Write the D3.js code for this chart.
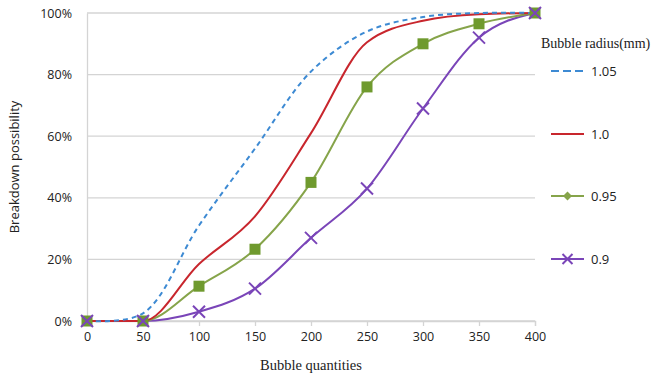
<!DOCTYPE html>
<html>
<head>
<meta charset="utf-8">
<script src="https://cdn.jsdelivr.net/npm/d3@7"></script>
<style>
  body { margin: 0; background: #fff; }
  svg { display: block; }
  .tick text { font-family: "Open Sans", "Liberation Sans", sans-serif; font-size: 12.5px; fill: #222; }
</style>
</head>
<body>
<div id="chart"></div>
<script>
const quantities = [0, 50, 100, 150, 200, 250, 300, 350, 400]
const r105 = [0, 2.5, 31, 56, 81, 94, 98.7, 100, 100]
const r100 = [0, 0, 18.5, 34, 61, 90.5, 97.5, 99.6, 100]
const r095 = [0, 0, 11.3, 23.3, 45, 76, 90, 96.5, 100]
const r090 = [0, 0, 3, 10.5, 27, 43, 69, 92, 100]
const seriesNames = ['1.05', '1.0', '0.95', '0.9']
const yTicks = [0, 20, 40, 60, 80, 100]

const width = 671, height = 376
const margin = {top: 13, right: 136, bottom: 55, left: 87}

const svg = d3.select('#chart').append('svg')
  .attr('width', width)
  .attr('height', height)

const x = d3.scaleLinear().domain([0, 400]).range([margin.left, width - margin.right])
const y = d3.scaleLinear().domain([0, 100]).range([height - margin.bottom, margin.top])

// grid
svg.append('g')
  .selectAll('line')
  .data(yTicks)
  .enter().append('line')
  .attr('x1', x(0)).attr('x2', x(400))
  .attr('y1', d => y(d)).attr('y2', d => y(d))
  .attr('stroke', '#d4d4d4')
  .attr('stroke-width', 1.3)

// y axis
const yAxis = svg.append('g')
  .attr('transform', `translate(${x(0)},0)`)
  .call(d3.axisLeft(y).tickValues(yTicks).tickFormat(d => d + '%').tickSize(0).tickPadding(15))
yAxis.select('.domain').attr('stroke', '#d4d4d4').attr('stroke-width', 1.3)

// x axis
const xAxis = svg.append('g')
  .attr('transform', `translate(0,${y(0)})`)
  .call(d3.axisBottom(x).tickValues(quantities).tickSize(5).tickPadding(6))
xAxis.select('.domain').attr('stroke', '#d4d4d4').attr('stroke-width', 1.3)
xAxis.selectAll('line').attr('stroke', '#d4d4d4').attr('stroke-width', 1.3)

// axis titles
svg.append('text')
  .attr('transform', `translate(19,${(y(0) + y(100)) / 2}) rotate(-90)`)
  .attr('text-anchor', 'middle')
  .style('font-family', '"Open Sans", "Liberation Sans", sans-serif')
  .style('font-size', '13px')
  .attr('fill', '#222')
  .text('Breakdown possibility')

svg.append('text')
  .attr('x', x(200))
  .attr('y', 370)
  .attr('text-anchor', 'middle')
  .style('font-family', '"Liberation Serif", "DejaVu Serif", serif')
  .style('font-size', '14.5px')
  .attr('fill', '#222')
  .text('Bubble quantities')

const series = [
  {name: seriesNames[0], values: r105, color: '#3d8ad3', dash: '5,4', marker: null, curve: d3.curveCatmullRom},
  {name: seriesNames[1], values: r100, color: '#c8262d', dash: null, marker: null, curve: d3.curveMonotoneX},
  {name: seriesNames[2], values: r095, color: '#86a44a', dash: null, marker: 'square', curve: d3.curveMonotoneX},
  {name: seriesNames[3], values: r090, color: '#7a45b8', dash: null, marker: 'cross', curve: d3.curveMonotoneX}
]

const lines = svg.append('g')
lines.selectAll('path')
  .data(series.slice().reverse())
  .enter().append('path')
  .attr('d', s => d3.line()
    .x(d => x(d[0]))
    .y(d => y(d[1]))
    .curve(s.curve)(quantities.map((q, i) => [q, s.values[i]])))
  .attr('fill', 'none')
  .attr('stroke', s => s.color)
  .attr('stroke-width', 2)
  .attr('stroke-dasharray', s => s.dash)

function drawMarker(g, type, cx, cy, color, size) {
  if (type === 'square') {
    g.append('rect')
      .attr('x', cx - size / 2).attr('y', cy - size / 2)
      .attr('width', size).attr('height', size)
      .attr('fill', '#6f9a2e')
  } else if (type === 'diamond') {
    const h = size / 2
    g.append('path')
      .attr('d', `M${cx},${cy - h}L${cx + h},${cy}L${cx},${cy + h}L${cx - h},${cy}Z`)
      .attr('fill', '#86a44a')
  } else if (type === 'cross') {
    const h = size / 2
    g.append('path')
      .attr('d', `M${cx - h},${cy - h}L${cx + h},${cy + h}M${cx - h},${cy + h}L${cx + h},${cy - h}`)
      .attr('stroke', color)
      .attr('stroke-width', 2)
  }
}

const markers = svg.append('g')
series.filter(s => s.marker).forEach(s => {
  quantities.forEach((q, i) => {
    drawMarker(markers, s.marker, x(q), y(s.values[i]), s.color, s.marker === 'square' ? 11 : 12)
  })
})

// legend
const legend = svg.append('g')
legend.append('text')
  .attr('x', 541).attr('y', 48)
  .style('font-family', '"Liberation Serif", "DejaVu Serif", serif')
  .style('font-size', '14px')
  .attr('fill', '#222')
  .text('Bubble radius(mm)')

const legendY = [71, 134, 196, 259]
const legendMarker = [null, null, 'diamond', 'cross']
series.forEach((s, i) => {
  const ly = legendY[i]
  legend.append('line')
    .attr('x1', 551).attr('x2', 584)
    .attr('y1', ly).attr('y2', ly)
    .attr('stroke', s.color)
    .attr('stroke-width', 2)
    .attr('stroke-dasharray', s.dash ? '8,4' : null)
  if (legendMarker[i]) drawMarker(legend, legendMarker[i], 567.5, ly, s.color, legendMarker[i] === 'diamond' ? 9 : 10)
  legend.append('text')
    .attr('x', 591).attr('y', ly + 5)
    .style('font-family', '"Open Sans", "Liberation Sans", sans-serif')
    .style('font-size', '13px')
    .attr('fill', '#222')
    .text(s.name)
})
</script>
</body>
</html>
